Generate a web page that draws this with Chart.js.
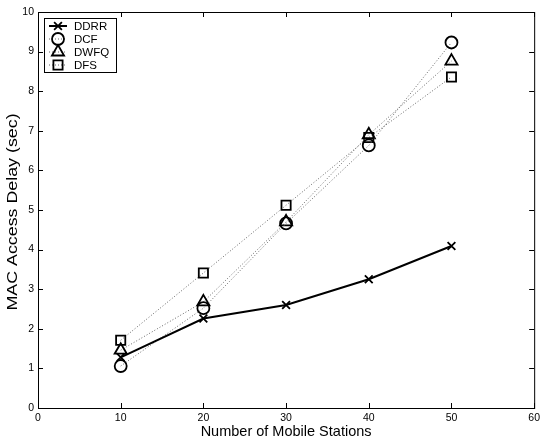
<!DOCTYPE html>
<html>
<head>
<meta charset="utf-8">
<script src="https://cdn.jsdelivr.net/npm/chart.js@4.4.1/dist/chart.umd.min.js"></script>
<style>
    html, body { margin: 0; padding: 0; background: #fff; }
    #wrap { width: 544px; height: 441px; }
</style>
</head>
<body>
<div id="wrap"><canvas id="delayChart" width="544" height="441"></canvas></div>
<script>
// ── data ──
const stations = [10, 20, 30, 40, 50];
const ddrr = [1.28, 2.26, 2.6, 3.25, 4.09];
const dcf = [1.06, 2.52, 4.66, 6.63, 9.23];
const dwfq = [1.46, 2.68, 4.7, 6.9, 8.76];
const dfs = [1.71, 3.41, 5.12, 6.83, 8.36];
const xTicks = [0, 10, 20, 30, 40, 50, 60];
const yTicks = [0, 1, 2, 3, 4, 5, 6, 7, 8, 9, 10];
const yTitle = 'MAC Access Delay (sec)';

const FONT = 'Liberation Sans, Arial, Helvetica, sans-serif';
const pts = arr => arr.map((v, i) => ({x: stations[i], y: v}));

// marker sizes per style (chart.js radius, so rect/triangle need a bit more)
const MARKER_R = {crossRot: 5.5, circle: 6, triangle: 7, rect: 6.5};

const series = [
    {label: 'DDRR', data: pts(ddrr), style: 'crossRot', solid: true},
    {label: 'DCF', data: pts(dcf), style: 'circle'},
    {label: 'DWFQ', data: pts(dwfq), style: 'triangle'},
    {label: 'DFS', data: pts(dfs), style: 'rect'}
];

// frame, inward ticks on all sides, legend box, stretched y title — matlab look
const frameAndLegend = {
    id: 'frameAndLegend',
    afterDraw(chart) {
        const {ctx, chartArea: a, scales: {x, y}} = chart;
        const tl = 5;
        ctx.save();
        ctx.strokeStyle = '#000';
        ctx.lineWidth = 1;
        ctx.strokeRect(a.left + 0.5, a.top + 0.5, a.right - a.left, a.bottom - a.top);
        ctx.beginPath();
        xTicks.forEach(t => {
            const px = Math.round(x.getPixelForValue(t)) + 0.5;
            ctx.moveTo(px, a.bottom); ctx.lineTo(px, a.bottom - tl);
            ctx.moveTo(px, a.top); ctx.lineTo(px, a.top + tl);
        });
        yTicks.forEach(t => {
            const py = Math.round(y.getPixelForValue(t)) + 0.5;
            ctx.moveTo(a.left, py); ctx.lineTo(a.left + tl, py);
            ctx.moveTo(a.right, py); ctx.lineTo(a.right - tl, py);
        });
        ctx.stroke();

        // y title (the original figure is stretched vertically)
        ctx.save();
        ctx.translate(13, (a.top + a.bottom) / 2 + 2);
        ctx.rotate(-Math.PI / 2);
        ctx.scale(1.23, 1);
        ctx.font = '14.5px ' + FONT;
        ctx.fillStyle = '#000';
        ctx.textAlign = 'center';
        ctx.textBaseline = 'middle';
        ctx.fillText(yTitle, 0, 0);
        ctx.restore();

        // legend
        const lx = a.left + 6, ly = a.top + 6, lw = 72, lh = 54;
        ctx.fillStyle = '#fff';
        ctx.fillRect(lx, ly, lw, lh);
        ctx.strokeRect(lx + 0.5, ly + 0.5, lw, lh);
        ctx.font = '11.5px ' + FONT;
        ctx.textBaseline = 'middle';
        chart.data.datasets.forEach((ds, i) => {
            const cy = ly + 8 + i * 13;
            ctx.save();
            ctx.strokeStyle = ds.borderColor;
            ctx.lineWidth = ds.borderWidth;
            ctx.setLineDash(ds.borderDash || []);
            ctx.beginPath();
            ctx.moveTo(lx + 5, cy); ctx.lineTo(lx + 23, cy);
            ctx.stroke();
            ctx.restore();
            ctx.save();
            ctx.strokeStyle = '#000';
            ctx.fillStyle = 'rgba(0,0,0,0)';
            ctx.lineWidth = ds.pointBorderWidth;
            Chart.helpers.drawPoint(ctx, {
                pointStyle: ds.pointStyle, radius: ds.pointRadius,
                borderWidth: ds.pointBorderWidth, rotation: 0
            }, lx + 14, cy);
            ctx.restore();
            ctx.fillStyle = '#000';
            ctx.fillText(ds.label, lx + 30, cy + 1);
        });
        ctx.restore();
    }
};

new Chart(document.getElementById('delayChart'), {
    type: 'line',
    data: {
        datasets: series.map(s => ({
            label: s.label,
            data: s.data,
            borderColor: s.solid ? '#000' : '#666',
            borderWidth: s.solid ? 2 : 1,
            borderDash: s.solid ? [] : [1, 2],
            pointStyle: s.style,
            pointRadius: MARKER_R[s.style],
            pointBorderColor: '#000',
            pointBackgroundColor: 'rgba(0,0,0,0)',
            pointBorderWidth: 1.8,
            tension: 0
        }))
    },
    options: {
        responsive: false, animation: false,
        layout: {padding: {top: 12, right: 8, left: 0, bottom: 0}},
        plugins: {legend: {display: false}, tooltip: {enabled: false}},
        scales: {
            x: {
                type: 'linear', min: 0, max: 60,
                afterFit: s => { s.height = 33; },
                afterBuildTicks: s => { s.ticks = xTicks.map(v => ({value: v})); },
                grid: {display: false, drawTicks: false, tickLength: 0}, border: {display: false},
                ticks: {color: '#000', font: {family: FONT, size: 10.5}, padding: 4, maxRotation: 0},
                title: {display: true, text: 'Number of Mobile Stations', color: '#000',
                    font: {family: FONT, size: 14.5}, padding: {top: 0, bottom: 0}}
            },
            y: {
                min: 0, max: 10,
                afterFit: s => { s.width = 38; },
                afterBuildTicks: s => { s.ticks = yTicks.map(v => ({value: v})); },
                grid: {display: false, drawTicks: false, tickLength: 0}, border: {display: false},
                ticks: {color: '#000', font: {family: FONT, size: 10.5}, padding: 4},
                title: {display: false}
            }
        }
    },
    plugins: [frameAndLegend]
});
</script>
</body>
</html>
